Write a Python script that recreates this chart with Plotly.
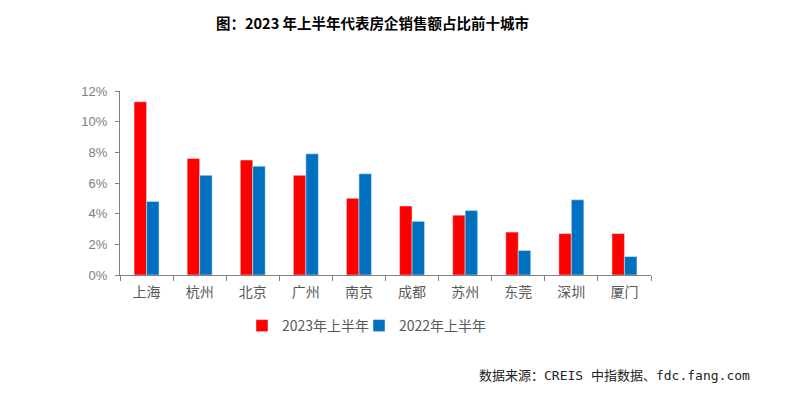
import plotly.graph_objects as go

cities = ["上海", "杭州", "北京", "广州", "南京", "成都", "苏州", "东莞", "深圳", "厦门"]
h1_2023 = [11.3, 7.6, 7.5, 6.5, 5.0, 4.5, 3.9, 2.8, 2.7, 2.7]
h1_2022 = [4.8, 6.5, 7.1, 7.9, 6.6, 3.5, 4.2, 1.6, 4.9, 1.2]
y_ticks = [0, 2, 4, 6, 8, 10, 12]
y_ticktext = [f"{v}%" for v in y_ticks]

FONT = "Liberation Sans, Noto Sans CJK SC, sans-serif"
CJK = "Noto Sans CJK SC, sans-serif"

OFF = 8  # default body margin of the page
W, H = 785 - OFF, 393 - OFF
# target page pixel positions
L, R, T, B = 120, 651, 91, 275
L, R, T, B = L - OFF, R - OFF, T - OFF, B - OFF
pw, ph = R - L, B - T

def px(x):
    return (x - OFF - L) / pw

def py(y):
    return (B - (y - OFF)) / ph

fig = go.Figure()
fig.add_trace(go.Bar(name="2023年上半年", x=cities, y=h1_2023, marker_color="#FF0000", legend="legend"))
fig.add_trace(go.Bar(name="2022年上半年", x=cities, y=h1_2022, marker_color="#0070C0", legend="legend2"))

leg_common = dict(orientation="h", yanchor="middle", y=py(326), xanchor="left",
                  font=dict(family=CJK, size=14, color="#595959"), bgcolor="rgba(0,0,0,0)")

fig.update_layout(
    width=W, height=H,
    margin=dict(l=L, r=W - R, t=T, b=H - B),
    plot_bgcolor="white", paper_bgcolor="white",
    barmode="group", bargap=0.53, bargroupgap=0,
    font=dict(family=FONT, size=12, color="#595959"),
    showlegend=True,
    legend=dict(x=px(242), **leg_common),
    legend2=dict(x=px(359), **leg_common),
    xaxis=dict(showline=True, linecolor="#808080", linewidth=1,
               ticks="outside", ticklen=5, tickcolor="#808080",
               tickson="boundaries", showgrid=False, ticklabelstandoff=4,
               tickfont=dict(family=CJK, size=14, color="#595959")),
    yaxis=dict(range=[0, 12], tickvals=y_ticks, ticktext=y_ticktext,
               showline=True, linecolor="#808080", linewidth=1,
               ticks="outside", ticklen=4, tickcolor="#808080",
               showgrid=False, zeroline=False, ticklabelstandoff=5,
               tickfont=dict(family=FONT, size=13, color="#808080")),
    annotations=[
        dict(text="<b>图：2023 年上半年代表房企销售额占比前十城市</b>", xref="paper", yref="paper",
             x=px(372), y=py(23), xanchor="center", yanchor="middle", showarrow=False,
             font=dict(family=CJK, size=14.5, color="#000000")),
        dict(text="数据来源：CREIS 中指数据、fdc.fang.com", xref="paper", yref="paper",
             x=px(752), y=py(375), xanchor="right", yanchor="middle", showarrow=False,
             font=dict(family="DejaVu Sans Mono, Noto Sans CJK SC, monospace", size=13, color="#222222")),
    ],
)

fig.write_html("out.html")
